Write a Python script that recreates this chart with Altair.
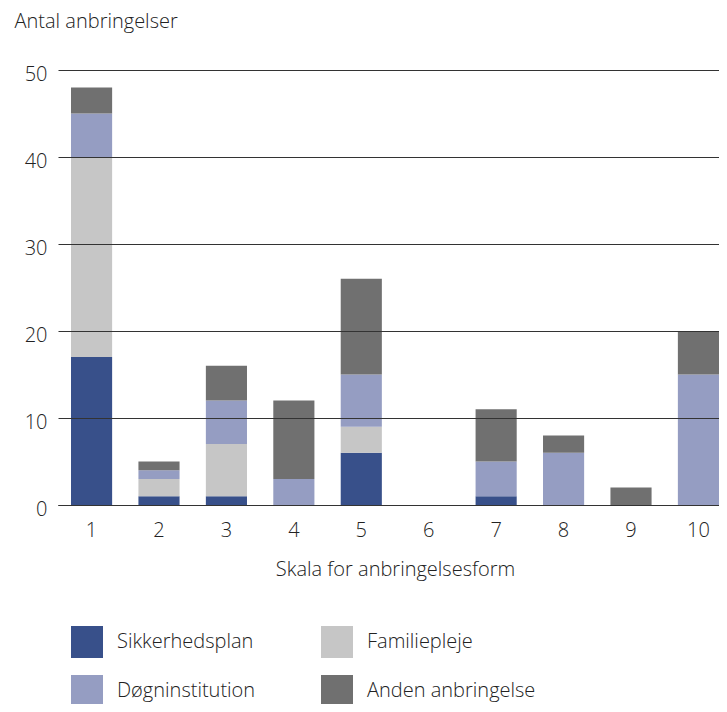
import altair as alt
import pandas as pd

categories = ["1", "2", "3", "4", "5", "6", "7", "8", "9", "10"]
series_names = ["Sikkerhedsplan", "Familiepleje", "Døgninstitution", "Anden anbringelse"]
legend_order = ["Sikkerhedsplan", "Døgninstitution", "Familiepleje", "Anden anbringelse"]
sikkerhedsplan = [17, 1, 1, 0, 6, 0, 1, 0, 0, 0]
familiepleje = [23, 2, 6, 0, 3, 0, 0, 0, 0, 0]
doegninstitution = [5, 1, 5, 3, 6, 0, 4, 6, 0, 15]
anden = [3, 1, 4, 9, 11, 0, 6, 2, 2, 5]
colors = ["#38508a", "#c6c6c6", "#959dc2", "#707070"]

rows = []
for s_idx, (name, vals) in enumerate(zip(series_names, [sikkerhedsplan, familiepleje, doegninstitution, anden])):
    for c, v in zip(categories, vals):
        rows.append({"kategori": c, "serie": name, "antal": v, "orden": s_idx})
df = pd.DataFrame(rows)

FONT = "Open Sans"
TXT = "#222222"

chart = alt.Chart(df).mark_bar().encode(
    x=alt.X("kategori:N", sort=categories,
            scale=alt.Scale(paddingInner=0.39, paddingOuter=0.0964, align=1),
            axis=alt.Axis(title="Skala for anbringelsesform", labelAngle=0, ticks=False,
                          labelPadding=15, labelFontSize=20, labelFontWeight=300, labelColor=TXT,
                          domainColor="#000", domainWidth=1.2,
                          titleFontSize=20, titleFontWeight=300, titleColor=TXT,
                          titleAlign="center", titleX=337,
                          titleBaseline="alphabetic", titleY=70)),
    y=alt.Y("antal:Q", stack="zero", scale=alt.Scale(domain=[0, 50], nice=False),
            axis=alt.Axis(title="Antal anbringelser", values=[0, 10, 20, 30, 40, 50], ticks=False,
                          domain=False, grid=True, gridColor="#333", gridWidth=1, zindex=1,
                          labelPadding=11, labelFontSize=20, labelFontWeight=300, labelColor=TXT,
                          labelOffset=4,
                          titleAngle=0, titleAlign="left", titleBaseline="alphabetic",
                          titleX=-44, titleY=-43, titleFontSize=20, titleFontWeight=300,
                          titleColor=TXT)),
    color=alt.Color("serie:N",
                    scale=alt.Scale(domain=series_names, range=colors),
                    legend=alt.Legend(title=None, orient="none", legendX=13, legendY=556,
                                      values=legend_order,
                                      columns=2, symbolType="square", symbolSize=1024,
                                      symbolStrokeWidth=0, labelFontSize=20, labelFontWeight=300,
                                      labelColor=TXT, labelLimit=400,
                                      labelOffset=14, columnPadding=65, rowPadding=17,
                                      padding=0, symbolOpacity=1)),
    order=alt.Order("orden:Q"),
).properties(
    width=661, height=435,
    autosize=alt.AutoSizeParams(type="none"),
    padding={"left": 50, "top": 62, "right": 0, "bottom": 199},
).configure(font=FONT).configure_view(stroke=None)

chart.save("out.html", embed_options={"renderer": "svg", "actions": False})
